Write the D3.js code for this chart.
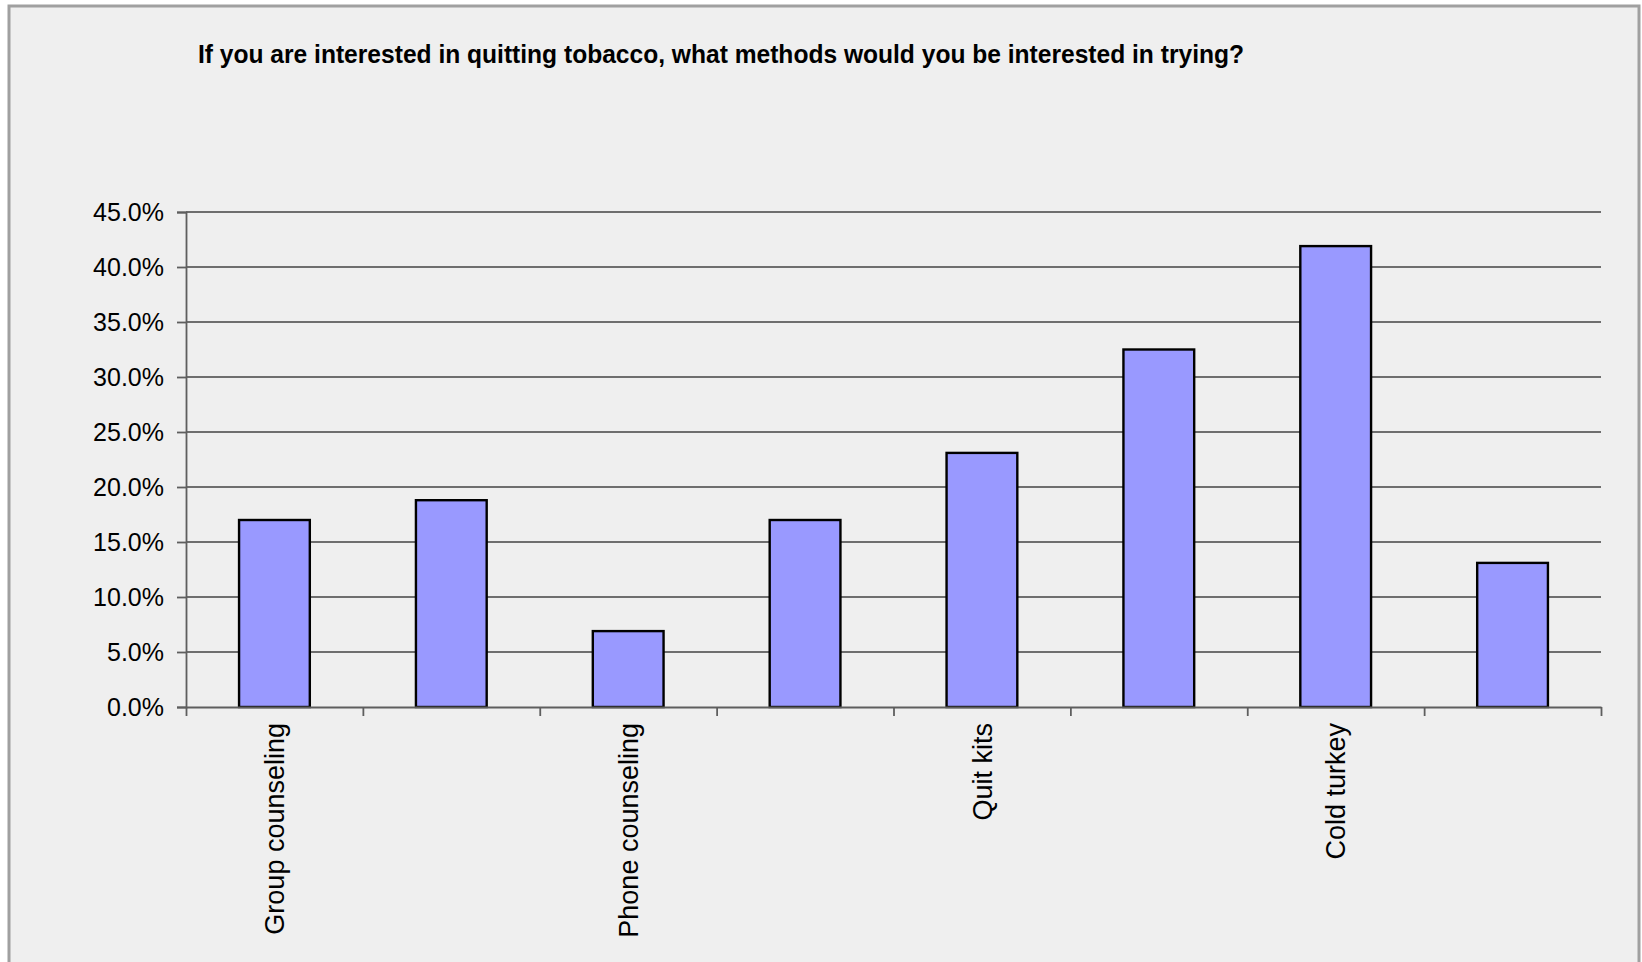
<!DOCTYPE html>
<html>
<head>
<meta charset="utf-8">
<script src="https://cdn.jsdelivr.net/npm/d3@7"></script>
<style>
  html, body { margin: 0; padding: 0; background: #ffffff; }
  svg { display: block; }
  text { font-family: "Liberation Sans", Arial, sans-serif; fill: #000; }
</style>
</head>
<body>
<svg id="chart" width="1642" height="962"></svg>
<script>
// ---- data ----
const title = "If you are interested in quitting tobacco, what methods would you be interested in trying?";
// Only every other category label is printed in the original chart
const categories = ["Group counseling", "", "Phone counseling", "", "Quit kits", "", "Cold turkey", ""];
const values = [17.0, 18.8, 6.9, 17.0, 23.1, 32.5, 41.9, 13.1];
const yTicks = [0, 5, 10, 15, 20, 25, 30, 35, 40, 45];
const yTickLabels = ["0.0%", "5.0%", "10.0%", "15.0%", "20.0%", "25.0%", "30.0%", "35.0%", "40.0%", "45.0%"];

// ---- layout ----
const plot = { left: 186, right: 1601, top: 212, bottom: 707 };

const svg = d3.select("#chart");

// chart area frame
svg.append("rect")
  .attr("x", 9).attr("y", 6)
  .attr("width", 1630).attr("height", 980)
  .attr("fill", "#efefef")
  .attr("stroke", "#a0a0a0")
  .attr("stroke-width", 3);

// title
svg.append("text")
  .attr("x", 198).attr("y", 63)
  .attr("font-size", 25)
  .attr("font-weight", "bold")
  .attr("textLength", 1046)
  .attr("lengthAdjust", "spacingAndGlyphs")
  .text(title);

// scales
const idx = d3.range(categories.length);
const x = d3.scaleBand()
  .domain(idx)
  .range([plot.left, plot.right])
  .paddingInner(0.6)
  .paddingOuter(0.3);

const y = d3.scaleLinear()
  .domain([0, 45])
  .range([plot.bottom, plot.top]);

// gridlines
svg.append("g")
  .selectAll("line")
  .data(yTicks.filter(d => d > 0))
  .join("line")
  .attr("x1", plot.left).attr("x2", plot.right)
  .attr("y1", d => y(d)).attr("y2", d => y(d))
  .attr("stroke", "#6e6e6e")
  .attr("stroke-width", 1.8);

// y axis
const yAxis = d3.axisLeft(y)
  .tickValues(yTicks)
  .tickFormat((d, i) => yTickLabels[i])
  .tickSize(9)
  .tickPadding(13);
const gy = svg.append("g")
  .attr("transform", `translate(${plot.left},0)`)
  .call(yAxis);
gy.select(".domain").attr("stroke", "#5e5e5e").attr("stroke-width", 1.8);
gy.selectAll(".tick line").attr("stroke", "#5e5e5e").attr("stroke-width", 1.8);
gy.selectAll(".tick text")
  .attr("font-size", 25)
  .attr("font-family", "'Liberation Sans', Arial, sans-serif")
  .attr("fill", "#222");

// bars
svg.append("g")
  .selectAll("rect")
  .data(values)
  .join("rect")
  .attr("x", (d, i) => x(i))
  .attr("y", d => y(d))
  .attr("width", x.bandwidth())
  .attr("height", d => y(0) - y(d))
  .attr("fill", "#9999ff")
  .attr("stroke", "#000")
  .attr("stroke-width", 2.4);

// x axis line and ticks at band boundaries
const xb = d3.scaleLinear().domain([0, categories.length]).range([plot.left, plot.right]);
const xAxis = d3.axisBottom(xb)
  .tickValues(d3.range(categories.length + 1))
  .tickFormat("")
  .tickSize(9)
  .tickSizeOuter(0);
const gx = svg.append("g")
  .attr("transform", `translate(0,${plot.bottom})`)
  .call(xAxis);
gx.select(".domain").attr("stroke", "#5e5e5e").attr("stroke-width", 1.8);
gx.selectAll(".tick line").attr("stroke", "#5e5e5e").attr("stroke-width", 1.8);

// category labels (rotated)
svg.append("g")
  .selectAll("text")
  .data(categories)
  .join("text")
  .attr("transform", (d, i) => `translate(${x(i) + x.bandwidth() / 2},${plot.bottom + 16}) rotate(-90)`)
  .attr("text-anchor", "end")
  .attr("dy", "0.36em")
  .attr("font-size", 27)
  .attr("fill", "#111")
  .text(d => d);
</script>
</body>
</html>
